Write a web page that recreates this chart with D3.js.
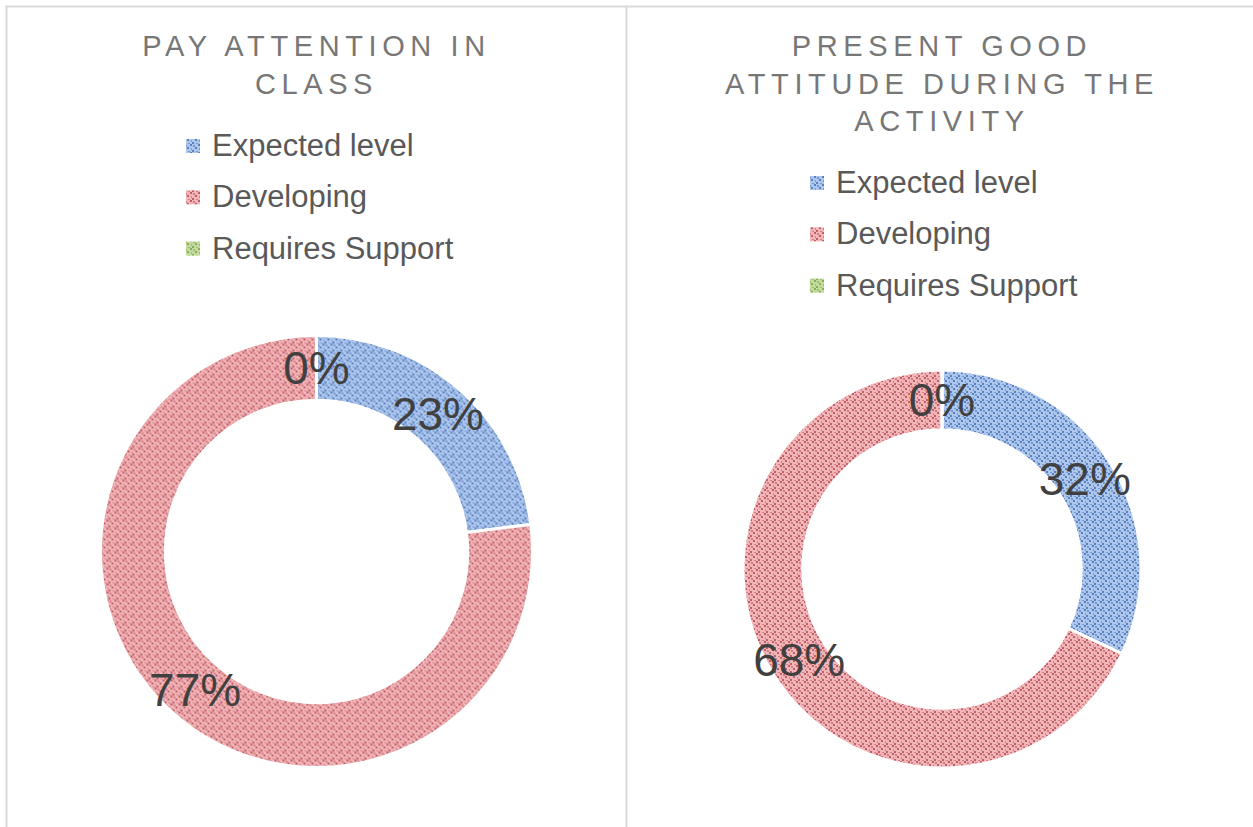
<!DOCTYPE html>
<html><head><meta charset="utf-8">
<script src="https://cdn.jsdelivr.net/npm/d3@7"></script>
<style>body{margin:0;background:#fff;}svg{display:block;font-family:"Liberation Sans",Arial,sans-serif;}</style>
</head><body>
<svg id="c" width="1253" height="827"></svg>
<script>
const categories = ["Expected level", "Developing", "Requires Support"];
const titleLeft = ["PAY ATTENTION IN", "CLASS"];
const titleRight = ["PRESENT GOOD", "ATTITUDE DURING THE", "ACTIVITY"];
const valuesLeft = [23, 77, 0];
const valuesRight = [32, 68, 0];
const baseColors = ["#aec7ed", "#f3b6b8", "#c4dba0"];
const dotColors = ["#4a72b8", "#b5505a", "#7fa548"];

const svg = d3.select("#c");
const defs = svg.append("defs");
categories.forEach((c, i) => {
  const p = defs.append("pattern").attr("id", "pat" + i).attr("patternUnits", "userSpaceOnUse")
    .attr("width", 8).attr("height", 8);
  p.append("rect").attr("width", 8).attr("height", 8).attr("fill", baseColors[i]);
  [[0, 6], [3, 3], [6, 0], [4, 7], [7, 4], [1, 1]].forEach(([x, y], k) => {
    p.append("rect").attr("x", x).attr("y", y).attr("width", 2).attr("height", 2)
      .attr("fill", dotColors[i]).attr("opacity", k < 3 ? 0.85 : 0.55);
  });
});

// frames
svg.append("rect").attr("x", 6.5).attr("y", 6.5).attr("width", 1300).attr("height", 900)
  .attr("fill", "none").attr("stroke", "#d9d9d9").attr("stroke-width", 2);
svg.append("line").attr("x1", 626.5).attr("x2", 626.5).attr("y1", 6).attr("y2", 827)
  .attr("stroke", "#d9d9d9").attr("stroke-width", 2);

function panel(cfg) {
  const g = svg.append("g");
  cfg.title.forEach((t, i) => {
    g.append("text").attr("x", cfg.cx).attr("y", cfg.titleY + i * 37.5)
      .attr("text-anchor", "middle").attr("font-size", 29).attr("letter-spacing", 5.6)
      .attr("fill", "#777777").text(t);
  });
  const leg = g.append("g");
  categories.forEach((c, i) => {
    const y = cfg.legY + i * 51.3;
    leg.append("rect").attr("x", cfg.legX).attr("y", y - 17).attr("width", 14).attr("height", 14)
      .attr("fill", "url(#pat" + i + ")");
    leg.append("text").attr("x", cfg.legX + 26).attr("y", y).attr("font-size", 31)
      .attr("fill", "#595959").text(c);
  });
  const pie = d3.pie().sort(null).value(d => d);
  const arcs = pie(cfg.values);
  const arc = d3.arc().innerRadius(cfg.r * 0.7).outerRadius(cfg.r);
  const dg = g.append("g").attr("transform", `translate(${cfg.cx},${cfg.cy})`);
  dg.selectAll("path").data(arcs).join("path").attr("d", arc)
    .attr("fill", (d, i) => "url(#pat" + i + ")")
    .attr("stroke", "#fff").attr("stroke-width", 3);
  dg.selectAll("text").data(arcs).join("text")
    .attr("transform", d => `translate(${arc.centroid(d)})`)
    .attr("text-anchor", "middle").attr("dy", "0.36em")
    .attr("font-size", 46).attr("fill", "#404040")
    .text(d => d.data + "%");
}

panel({cx: 316.5, cy: 551.5, r: 216, title: titleLeft, titleY: 56, values: valuesLeft, legX: 186, legY: 156});
panel({cx: 942, cy: 569, r: 199, title: titleRight, titleY: 56, values: valuesRight, legX: 810, legY: 193});
</script>
</body></html>
